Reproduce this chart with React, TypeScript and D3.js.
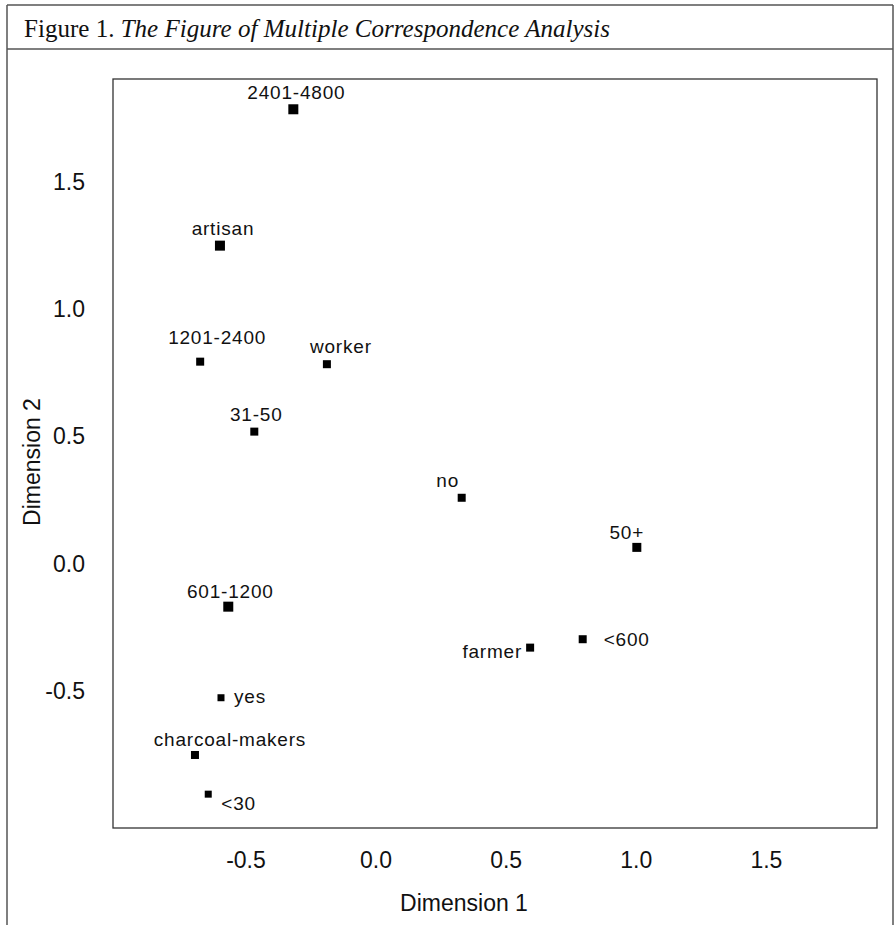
import React from "react";
import * as d3 from "d3";

// ---- data ----
const categories = [
  "2401-4800",
  "artisan",
  "1201-2400",
  "worker",
  "31-50",
  "no",
  "50+",
  "<600",
  "farmer",
  "601-1200",
  "yes",
  "charcoal-makers",
  "<30",
];
const dimension1 = [-0.318, -0.6, -0.676, -0.189, -0.468, 0.329, 1.002, 0.794, 0.592, -0.568, -0.596, -0.696, -0.645];
const dimension2 = [1.786, 1.25, 0.794, 0.784, 0.519, 0.259, 0.064, -0.297, -0.33, -0.169, -0.527, -0.752, -0.906];
const xTicks = [-0.5, 0.0, 0.5, 1.0, 1.5];
const yTicks = [-0.5, 0.0, 0.5, 1.0, 1.5];
const xDomain = [-1.011, 1.925];
const yDomain = [-1.039, 1.905];

// ---- styling (label placement relative to marker, marker size) ----
const labelStyle: Record<string, { anchor: string; dx: number; dy: number; size: number }> = {
  "2401-4800": { anchor: "middle", dx: 3, dy: -17, size: 10 },
  artisan: { anchor: "middle", dx: 3, dy: -17, size: 10 },
  "1201-2400": { anchor: "middle", dx: 17, dy: -24, size: 8 },
  worker: { anchor: "middle", dx: 14, dy: -18, size: 8 },
  "31-50": { anchor: "middle", dx: 2, dy: -17, size: 8 },
  no: { anchor: "middle", dx: -14, dy: -18, size: 8 },
  "50+": { anchor: "middle", dx: -10, dy: -15, size: 9 },
  "<600": { anchor: "start", dx: 21, dy: 0, size: 8 },
  farmer: { anchor: "end", dx: -8, dy: 4, size: 8 },
  "601-1200": { anchor: "middle", dx: 2, dy: -15, size: 10 },
  yes: { anchor: "start", dx: 13, dy: -2, size: 7 },
  "charcoal-makers": { anchor: "middle", dx: 35, dy: -16, size: 8 },
  "<30": { anchor: "start", dx: 13, dy: 9, size: 7 },
};

const W = 895;
const H = 925;
const plot = { left: 113, right: 877, top: 79, bottom: 828 };
const sans = "'Liberation Sans', Arial, sans-serif";
const serif = "'Liberation Serif', 'Times New Roman', serif";

export default function App() {
  const x = d3.scaleLinear().domain(xDomain).range([plot.left, plot.right]);
  const y = d3.scaleLinear().domain(yDomain).range([plot.bottom, plot.top]);
  const fmt = (v: number) => d3.format(".1f")(v).replace("\u2212", "-");
  const labelFont = 19;
  const capHalf = labelFont * 0.716 * 0.5;

  return (
    <svg
      width={W}
      height={H}
      style={{ position: "absolute", left: 0, top: 0, background: "#fff" }}
    >
      <rect x={0} y={0} width={W} height={H} fill="#fff" />
      {/* outer frame */}
      <line x1={7} x2={893} y1={5} y2={5} stroke="#555" strokeWidth={1.5} />
      <line x1={7} x2={7} y1={5} y2={H} stroke="#555" strokeWidth={1.5} />
      <line x1={893} x2={893} y1={5} y2={H} stroke="#555" strokeWidth={1.5} />
      <line x1={7} x2={893} y1={49} y2={49} stroke="#555" strokeWidth={1.5} />

      {/* title */}
      <text x={24} y={37} fontFamily={serif} fontSize={26} fill="#111" textLength={586} lengthAdjust="spacingAndGlyphs">
        <tspan>Figure 1. </tspan>
        <tspan fontStyle="italic">The Figure of Multiple Correspondence Analysis</tspan>
      </text>

      {/* plot border */}
      <rect
        x={plot.left}
        y={plot.top}
        width={plot.right - plot.left}
        height={plot.bottom - plot.top}
        fill="none"
        stroke="#333"
        strokeWidth={1.3}
      />

      {/* y tick labels */}
      {yTicks.map((t) => (
        <text
          key={"y" + t}
          x={85}
          y={y(t) + 8}
          textAnchor="end"
          fontFamily={sans}
          fontSize={23}
          fill="#111"
        >
          {fmt(t)}
        </text>
      ))}

      {/* x tick labels */}
      {xTicks.map((t) => (
        <text
          key={"x" + t}
          x={x(t)}
          y={868}
          textAnchor="middle"
          fontFamily={sans}
          fontSize={23}
          fill="#111"
        >
          {fmt(t)}
        </text>
      ))}

      {/* axis titles */}
      <text x={464} y={911} textAnchor="middle" fontFamily={sans} fontSize={23} fill="#111">
        Dimension 1
      </text>
      <text
        transform={`translate(40,462) rotate(-90)`}
        textAnchor="middle"
        fontFamily={sans}
        fontSize={23}
        fill="#111"
      >
        Dimension 2
      </text>

      {/* points */}
      {categories.map((c, i) => {
        const cx = x(dimension1[i]);
        const cy = y(dimension2[i]);
        const st = labelStyle[c];
        return (
          <g key={c}>
            <rect x={cx - st.size / 2} y={cy - st.size / 2} width={st.size} height={st.size} fill="#000" />
            <text
              x={cx + st.dx}
              y={cy + st.dy + capHalf}
              textAnchor={st.anchor}
              fontFamily={sans}
              fontSize={labelFont}
              letterSpacing={0.8}
              fill="#111"
            >
              {c}
            </text>
          </g>
        );
      })}
    </svg>
  );
}
